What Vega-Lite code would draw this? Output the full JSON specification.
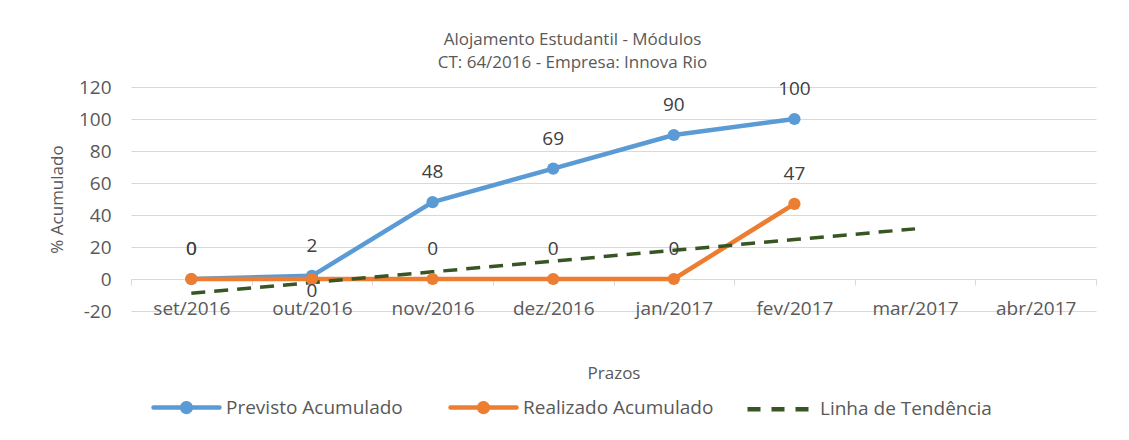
{
  "$schema": "https://vega.github.io/schema/vega-lite/v6.json",
  "width": 965,
  "height": 224,
  "padding": {"left": 48, "top": 31, "right": 30, "bottom": 5},
  "background": "white",
  "config": {"view": {"stroke": null}},
  "title": {
    "text": ["Alojamento Estudantil - Módulos", "CT: 64/2016 - Empresa: Innova Rio"],
    "font": "Open Sans",
    "fontSize": 17,
    "fontWeight": "normal",
    "color": "#595959",
    "frame": "bounds",
    "anchor": "middle",
    "lineHeight": 23,
    "offset": 6
  },
  "data": {
    "values": [
      {"mes": "set/2016", "serie": "Previsto Acumulado", "valor": 0},
      {"mes": "out/2016", "serie": "Previsto Acumulado", "valor": 2},
      {"mes": "nov/2016", "serie": "Previsto Acumulado", "valor": 48},
      {"mes": "dez/2016", "serie": "Previsto Acumulado", "valor": 69},
      {"mes": "jan/2017", "serie": "Previsto Acumulado", "valor": 90},
      {"mes": "fev/2017", "serie": "Previsto Acumulado", "valor": 100},
      {"mes": "set/2016", "serie": "Realizado Acumulado", "valor": 0},
      {"mes": "out/2016", "serie": "Realizado Acumulado", "valor": 0},
      {"mes": "nov/2016", "serie": "Realizado Acumulado", "valor": 0},
      {"mes": "dez/2016", "serie": "Realizado Acumulado", "valor": 0},
      {"mes": "jan/2017", "serie": "Realizado Acumulado", "valor": 0},
      {"mes": "fev/2017", "serie": "Realizado Acumulado", "valor": 47},
      {"mes": "set/2016", "serie": "Linha de Tendência", "valor": -8.95},
      {"mes": "out/2016", "serie": "Linha de Tendência", "valor": -2.24},
      {"mes": "nov/2016", "serie": "Linha de Tendência", "valor": 4.48},
      {"mes": "dez/2016", "serie": "Linha de Tendência", "valor": 11.19},
      {"mes": "jan/2017", "serie": "Linha de Tendência", "valor": 17.9},
      {"mes": "fev/2017", "serie": "Linha de Tendência", "valor": 24.62},
      {"mes": "mar/2017", "serie": "Linha de Tendência", "valor": 31.33}
    ]
  },
  "encoding": {
    "x": {
      "field": "mes",
      "type": "ordinal",
      "bandPosition": 0.5,
      "scale": {
        "type": "band",
        "domain": ["set/2016", "out/2016", "nov/2016", "dez/2016", "jan/2017", "fev/2017", "mar/2017", "abr/2017"],
        "paddingInner": 0,
        "paddingOuter": 0
      },
      "axis": {
        "title": "Prazos",
        "titleFont": "Open Sans",
        "titleFontSize": 17,
        "titleFontWeight": "normal",
        "titleColor": "#595959",
        "titlePadding": 47,
        "labelFont": "Open Sans",
        "labelFontSize": 19,
        "labelColor": "#595959",
        "labelAngle": 0,
        "labelPadding": 14,
        "offset": -32,
        "tickBand": "extent",
        "tickColor": "#D9D9D9",
        "tickSize": 6,
        "domainColor": "#D9D9D9",
        "grid": false
      }
    },
    "y": {
      "field": "valor",
      "type": "quantitative",
      "scale": {"domain": [-20, 120], "nice": false, "zero": false},
      "axis": {
        "title": "% Acumulado",
        "titleFont": "Open Sans",
        "titleFontSize": 17,
        "titleFontWeight": "normal",
        "titleColor": "#595959",
        "titlePadding": 12,
        "labelFont": "Open Sans",
        "labelFontSize": 19,
        "labelColor": "#595959",
        "labelPadding": 20,
        "labelExpr": "replace(datum.label, '\u2212', '-')",
        "values": [-20, 0, 20, 40, 60, 80, 100, 120],
        "ticks": false,
        "domain": false,
        "grid": true,
        "gridColor": "#D9D9D9",
        "gridWidth": 1
      }
    },
    "color": {
      "field": "serie",
      "type": "nominal",
      "scale": {
        "domain": ["Previsto Acumulado", "Realizado Acumulado", "Linha de Tendência"],
        "range": ["#5B9BD5", "#ED7D31", "#375623"]
      },
      "legend": {
        "orient": "none",
        "legendX": 20,
        "legendY": 285,
        "direction": "horizontal",
        "columns": 3,
        "title": null,
        "gridAlign": "all",
        "columnPadding": 24,
        "labelFont": "Open Sans",
        "labelFontSize": 19,
        "labelColor": "#595959",
        "labelOffset": 4,
        "labelLimit": 0,
        "symbolSize": 4356,
        "symbolStrokeWidth": 4.5,
        "encode": {
          "symbols": {
            "update": {
              "shape": {"signal": "datum.value === 'Linha de Tendência' ? 'M-1,0L1,0' : 'M-1,0L1,0M-0.13,0A0.13,0.13,0,1,1,0.13,0A0.13,0.13,0,1,1,-0.13,0Z'"},
              "fill": {"scale": "color", "field": "value"},
              "stroke": {"scale": "color", "field": "value"},
              "strokeWidth": {"value": 4.5},
              "strokeCap": {"signal": "datum.value === 'Linha de Tendência' ? 'butt' : 'round'"},
              "strokeDash": {"signal": "datum.value === 'Linha de Tendência' ? [13, 11] : [1, 0]"},
              "opacity": {"value": 1}
            }
          }
        }
      }
    }
  },
  "layer": [
    {
      "transform": [{"filter": "datum.serie !== 'Linha de Tendência'"}],
      "mark": {"type": "line", "strokeWidth": 4.5, "strokeCap": "round", "strokeJoin": "round"}
    },
    {
      "transform": [{"filter": "datum.serie === 'Linha de Tendência'"}],
      "mark": {"type": "line", "strokeWidth": 3.5, "strokeDash": [14, 9]}
    },
    {
      "transform": [{"filter": "datum.serie !== 'Linha de Tendência'"}],
      "mark": {"type": "point", "filled": true, "size": 150, "opacity": 1, "shape": "circle"}
    },
    {
      "transform": [{"filter": "datum.serie === 'Previsto Acumulado'"}],
      "mark": {"type": "text", "dy": -30, "font": "Open Sans", "fontSize": 19, "baseline": "middle"},
      "encoding": {"text": {"field": "valor", "type": "quantitative"}, "color": {"value": "#404040"}}
    },
    {
      "transform": [{"filter": "datum.serie === 'Realizado Acumulado' && datum.mes !== 'out/2016'"}],
      "mark": {"type": "text", "dy": -30, "font": "Open Sans", "fontSize": 19, "baseline": "middle"},
      "encoding": {"text": {"field": "valor", "type": "quantitative"}, "color": {"value": "#404040"}}
    },
    {
      "transform": [{"filter": "datum.serie === 'Realizado Acumulado' && datum.mes === 'out/2016'"}],
      "mark": {"type": "text", "dy": 12, "font": "Open Sans", "fontSize": 19, "baseline": "middle"},
      "encoding": {"text": {"field": "valor", "type": "quantitative"}, "color": {"value": "#404040"}}
    }
  ]
}
